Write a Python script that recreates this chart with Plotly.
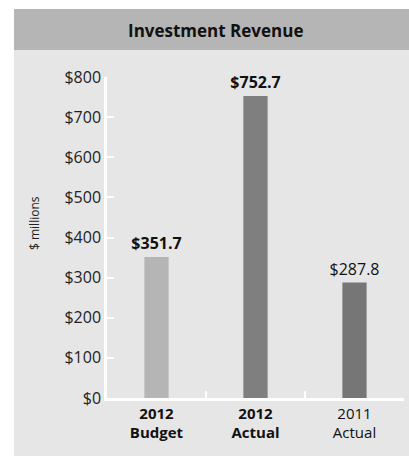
import plotly.graph_objects as go

# Investment revenue, $ millions
categories = ["2012 Budget", "2012 Actual", "2011 Actual"]
values = [351.7, 752.7, 287.8]
bold = [True, True, False]
bar_colors = ["#b5b5b5", "#7f7f7f", "#767676"]
y_ticks = [0, 100, 200, 300, 400, 500, 600, 700, 800]

W, H = 409, 456
L, R, T, B = 107, 5, 77, 58
pw, ph = W - L - R, H - T - B


def px_x(p):
    return (p - L) / pw


def px_y(p):
    return (H - B - p) / ph


def wrap(s, b):
    return "<br>".join(f"<b>{w}</b>" if b else w for w in s.split(" "))


tick_text = [wrap(c, b) for c, b in zip(categories, bold)]
value_text = [f"<b>${v:.1f}</b>" if b else f"${v:.1f}" for v, b in zip(values, bold)]

FONT = "Open Sans"

fig = go.Figure(
    go.Bar(
        x=categories,
        y=values,
        marker=dict(color=bar_colors, line=dict(width=0)),
        width=0.245,
        text=value_text,
        textposition="outside",
        constraintext="none",
        textfont=dict(family=FONT, size=16, color="#111"),
        cliponaxis=False,
        hoverinfo="skip",
    )
)

# panel background and title band
fig.add_shape(type="rect", xref="paper", yref="paper",
              x0=px_x(14), x1=px_x(W), y0=px_y(H), y1=px_y(50),
              fillcolor="#e6e6e6", line=dict(width=0), layer="below")
fig.add_shape(type="rect", xref="paper", yref="paper",
              x0=px_x(14), x1=px_x(W), y0=px_y(50), y1=px_y(9),
              fillcolor="#b5b5b5", line=dict(width=0), layer="below")
fig.add_annotation(text="<b>Investment Revenue</b>", xref="paper", yref="paper",
                   x=px_x(215), y=px_y(30), showarrow=False,
                   font=dict(family=FONT, size=17, color="#111"),
                   xanchor="center", yanchor="middle")
fig.add_annotation(text="$ millions", xref="paper", yref="paper",
                   x=px_x(34), y=px_y(223), showarrow=False, textangle=-90,
                   font=dict(family=FONT, size=12, color="#222"),
                   xanchor="center", yanchor="middle")

fig.update_layout(
    width=W, height=H,
    margin=dict(l=L, r=R, t=T, b=B),
    paper_bgcolor="white",
    plot_bgcolor="rgba(0,0,0,0)",
    showlegend=False,
    font=dict(family=FONT, color="#111"),
    xaxis=dict(
        type="category",
        range=[-0.5, 2.5],
        tickmode="array", tickvals=categories, ticktext=tick_text,
        tickson="boundaries",
        ticks="inside", ticklen=7, tickwidth=2, tickcolor="white",
        showline=True, linecolor="white", linewidth=2.5,
        showgrid=False, zeroline=False,
        tickfont=dict(family=FONT, size=15, color="#111"),
    ),
    yaxis=dict(
        range=[0, 800],
        tickmode="array", tickvals=y_ticks,
        ticktext=[f"${v}" for v in y_ticks],
        ticks="inside", ticklen=7, tickwidth=2, tickcolor="white",
        showline=True, linecolor="white", linewidth=2.5,
        showgrid=False, zeroline=False,
        tickfont=dict(family=FONT, size=16, color="#222"),
    ),
)

fig.write_html("out.html")
